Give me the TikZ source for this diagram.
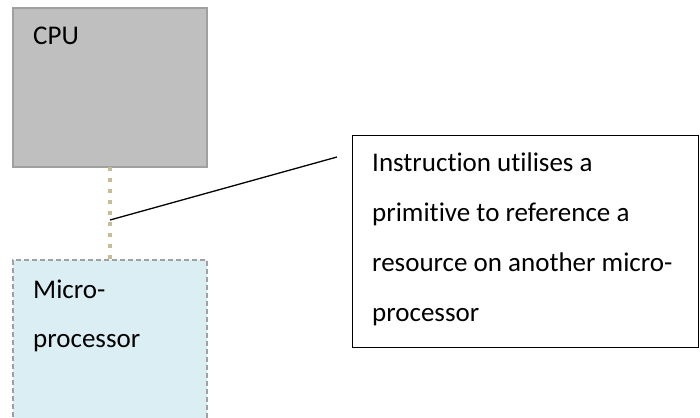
\documentclass[tikz,border=0pt]{standalone}
\usepackage{fontspec}
\setmainfont{Carlito}[Ligatures=CommonOff]
\usetikzlibrary{calc}
\definecolor{cpugray}{HTML}{BFBFBF}
\definecolor{cpuedge}{HTML}{A0A0A0}
\definecolor{microblue}{HTML}{DAEEF3}
\definecolor{linktan}{HTML}{C4BD97}
\begin{document}
\begin{tikzpicture}[x=1pt, y=-1pt,
    box/.style={anchor=north west, inner sep=0pt, outer sep=0pt},
    lbl/.style={anchor=base west, inner sep=0pt, align=left,
        font=\fontsize{27}{49}\selectfont}]
    \useasboundingbox (0,0) rectangle (700,417);
    \node[box, fill=cpugray, draw=cpuedge, line width=1.5pt,
        minimum width=194pt, minimum height=159pt] (cpu) at (13,8) {};
    \node[box, fill=microblue, draw=cpuedge, line width=1.5pt,
        dash pattern=on 5pt off 3pt,
        minimum width=194pt, minimum height=180pt] (micro) at (13,260) {};
    \node[box, draw=black, line width=1pt,
        minimum width=346pt, minimum height=212pt] (note) at (352,135) {};
    \node[lbl] (cpulbl) at (33,45) {CPU};
    \node[lbl] (microlbl) at (33,347) {Micro-\\processor};
    \node[lbl, font=\fontsize{27}{50}\selectfont] (notelbl) at (372,321)
        {Instruction utilises a\\primitive to reference a\\resource on another micro-\\processor};
    \draw[linktan, line width=4pt, dash pattern=on 4pt off 7pt]
        (cpu.south) -- (micro.north);
    \coordinate (tap) at ($(cpu.south)!0.57!(micro.north)$);
    \coordinate (tip) at (337,157);
    \draw[line width=1.3pt] (tap) -- (tip);
\end{tikzpicture}
\end{document}
